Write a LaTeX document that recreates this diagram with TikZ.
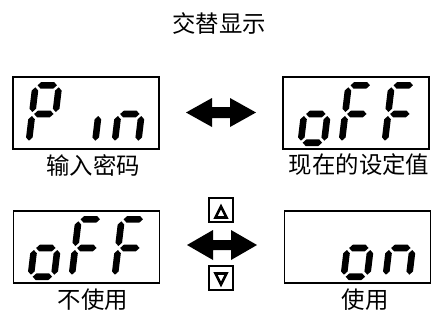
\documentclass[tikz,border=0pt]{standalone}
\usepackage{fontspec}
\newfontfamily\cjk{Noto Sans CJK SC}
\tikzset{
  disp/.style={draw, line width=1.4bp, minimum width=146bp, minimum height=72bp, inner sep=0pt},
  lbl/.style={font=\cjk\fontsize{23.5}{27}\selectfont, inner sep=0pt},
  btn/.style={draw, line width=1.2bp, minimum width=24bp, minimum height=24bp, inner sep=0pt},
  tri/.style={line width=2.6bp, line join=miter},
  bigarrow/.style={fill=black},
}
% seven-segment pieces (local units: u right, v up)
\newcommand\hseg[3]{\fill (#2,#1) -- (#2+3.3,#1+3.3) -- (#3-3.3,#1+3.3) -- (#3,#1) -- (#3-3.3,#1-3.3) -- (#2+3.3,#1-3.3) -- cycle;}
\newcommand\vseg[3]{\fill (#1,#2) -- (#1+3.3,#2+3.3) -- (#1+3.3,#3-3.3) -- (#1,#3) -- (#1-3.3,#3-3.3) -- (#1-3.3,#2+3.3) -- cycle;}
\newcommand\ssA{\hseg{60.7}{5.3}{24.7}}
\newcommand\ssG{\hseg{32}{5.3}{24.7}}
\newcommand\ssD{\hseg{3.3}{5.3}{24.7}}
\newcommand\ssF{\vseg{3.3}{34}{58.7}}
\newcommand\ssB{\vseg{26.7}{34}{58.7}}
\newcommand\ssE{\vseg{3.3}{5.3}{30}}
\newcommand\ssC{\vseg{26.7}{5.3}{30}}
\newcommand\sevdigit[3]{%
  \begin{scope}[shift={(#1,#2)}, x={(1bp,0bp)}, y={(0.12bp,1bp)}]
    \foreach \sg in {#3} {\csname ss\sg\endcsname}
  \end{scope}}
\begin{document}
\begin{tikzpicture}[x=1bp, y=-1bp]
  \useasboundingbox (0,0) rectangle (435,320);
  \node[lbl] (title) at (219,24) {交替显示};

  % displays
  \node[disp] (pin)  at (86,113)    {};
  \node[disp] (cur)  at (356,113)   {};
  \node[disp] (offb) at (86.5,247)  {};
  \node[disp] (onb)  at (357.5,247) {};

  % digits
  \sevdigit{25}{146}{A,B,F,G,E}
  \sevdigit{68}{146}{C}
  \sevdigit{111}{146}{C,E,G}
  \sevdigit{297}{146}{C,D,E,G}
  \sevdigit{338}{146}{A,F,G,E}
  \sevdigit{381}{146}{A,F,G,E}
  \sevdigit{27}{280}{C,D,E,G}
  \sevdigit{68}{280}{A,F,G,E}
  \sevdigit{111}{280}{A,F,G,E}
  \sevdigit{340}{280}{C,D,E,G}
  \sevdigit{382}{280}{C,E,G}

  % labels
  \node[lbl] (l1) at (93,165)  {输入密码};
  \node[lbl] (l2) at (359,165) {现在的设定值};
  \node[lbl] (l3) at (93,300)  {不使用};
  \node[lbl] (l4) at (365,300) {使用};

  % double arrows
  \fill[bigarrow] (186,112.5) -- (212,98) -- (212,107) -- (230,107) -- (230,98) -- (256,112.5)
    -- (230,127) -- (230,118) -- (212,118) -- (212,127) -- cycle;
  \fill[bigarrow] (187,245) -- (213,230) -- (213,240) -- (231,240) -- (231,230) -- (257,245)
    -- (231,260) -- (231,250) -- (213,250) -- (213,260) -- cycle;

  % buttons
  \node[btn] (up) at (221,210) {};
  \draw[tri] (215.5,217.5) -- (221,206.5) -- (226.5,217.5) -- cycle;
  \node[btn] (dn) at (221,278) {};
  \draw[tri] (215.5,273.5) -- (226.5,273.5) -- (221,284.5) -- cycle;
\end{tikzpicture}
\end{document}
